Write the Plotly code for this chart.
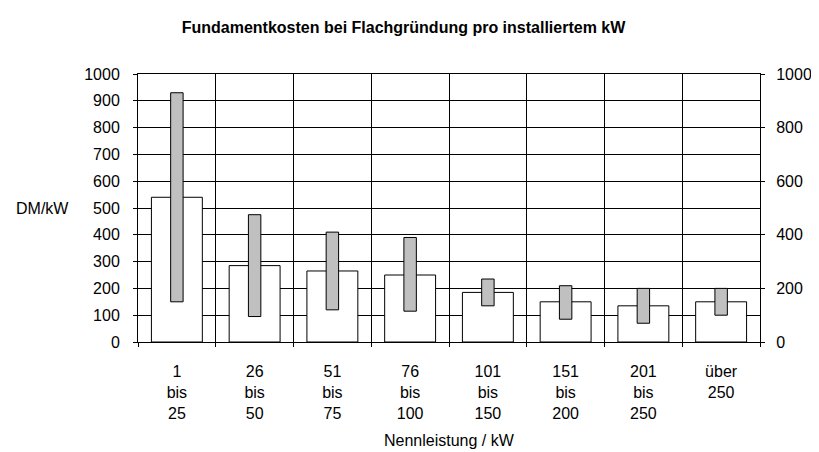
import plotly.graph_objects as go

categories = ["1<br>bis<br>25", "26<br>bis<br>50", "51<br>bis<br>75", "76<br>bis<br>100",
              "101<br>bis<br>150", "151<br>bis<br>200", "201<br>bis<br>250", "über<br>250<br> "]
mean_cost = [540, 285, 265, 250, 185, 150, 135, 150]
min_cost = [150, 95, 120, 115, 135, 85, 70, 100]
max_cost = [930, 475, 410, 390, 235, 210, 200, 200]

FONT = "Liberation Sans, Arial, sans-serif"
FS = 16

fig = go.Figure()
fig.add_trace(go.Bar(
    x=categories, y=mean_cost, width=0.655,
    marker=dict(color="white", line=dict(color="black", width=1)),
    showlegend=False, hoverinfo="skip"))
fig.add_trace(go.Bar(
    x=categories, y=[mx - mn for mx, mn in zip(max_cost, min_cost)], base=min_cost, width=0.16,
    marker=dict(color="#c0c0c0", line=dict(color="black", width=1)),
    showlegend=False, hoverinfo="skip"))
fig.add_trace(go.Scatter(
    x=categories, y=mean_cost, yaxis="y2", mode="markers",
    marker=dict(opacity=0), showlegend=False, hoverinfo="skip"))

fig.update_layout(
    width=811, height=444,
    margin=dict(l=130, r=59, t=66, b=110, autoexpand=False),
    paper_bgcolor="white", plot_bgcolor="white",
    barmode="overlay",
    font=dict(family=FONT, size=FS, color="black"),
    title=dict(text="<b>Fundamentkosten bei Flachgründung pro installiertem kW</b>",
               x=0.4877, xanchor="center", y=0.957, yanchor="middle",
               font=dict(family=FONT, size=FS, color="black")),
    xaxis=dict(type="category", tickson="boundaries", showgrid=True, gridcolor="black", gridwidth=1,
               showline=True, linecolor="black", linewidth=1, mirror=True,
               ticks="outside", ticklen=4, tickcolor="black", automargin=False,
               range=[-0.5, 7.5], tickfont=dict(size=FS), ticklabelstandoff=15),
    yaxis=dict(range=[0, 1000], dtick=100, showgrid=True, gridcolor="black", gridwidth=1,
               showline=True, linecolor="black", linewidth=1, mirror=True, automargin=False,
               ticks="outside", ticklen=4, tickcolor="black", zeroline=False,
               tickfont=dict(size=FS), ticklabelstandoff=10),
    yaxis2=dict(range=[0, 1000], dtick=200, overlaying="y", side="right", showgrid=False,
                showline=True, linecolor="black", linewidth=1, automargin=False,
                ticks="outside", ticklen=4, tickcolor="black", zeroline=False,
                tickfont=dict(size=FS), ticklabelstandoff=8),
    annotations=[
        dict(text="DM/kW", xref="paper", yref="y", x=-0.2, y=500,
             xanchor="left", yanchor="middle", showarrow=False,
             font=dict(family=FONT, size=FS, color="black")),
        dict(text="Nennleistung / kW", xref="paper", yref="paper", x=0.5, y=-0.369,
             xanchor="center", yanchor="middle", showarrow=False,
             font=dict(family=FONT, size=FS, color="black")),
    ],
)

fig.write_html("out.html")
